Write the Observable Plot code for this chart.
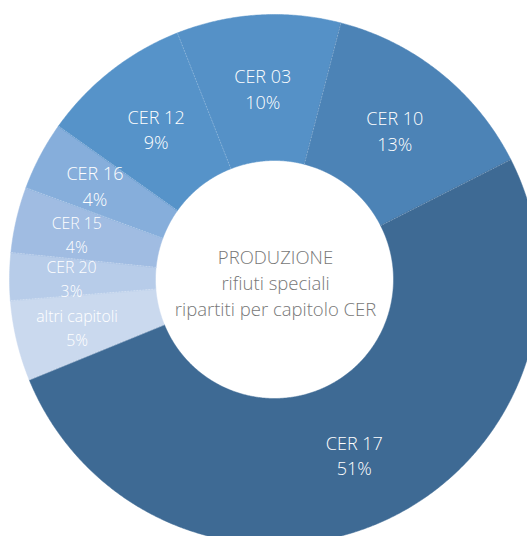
<!DOCTYPE html>
<html><head><meta charset="utf-8">
<script src="https://cdn.jsdelivr.net/npm/d3@7"></script>
<script src="https://cdn.jsdelivr.net/npm/@observablehq/plot@0.6"></script>
<style>
html,body{margin:0;padding:0;background:#fff;overflow:hidden}
#chart svg{overflow:hidden;display:block}
</style>
</head><body><div id="chart"></div>
<script>
// ---- data ----
const categories = ["CER 03","CER 10","CER 17","altri capitoli","CER 20","CER 15","CER 16","CER 12"];
const shares = [10.0, 13.5, 51.3, 4.9, 2.9, 4.0, 4.2, 9.2];
const percentLabels = ["10%","13%","51%","5%","3%","4%","4%","9%"];
const colors = ["#5591c7","#4c83b6","#3e6a94","#cad9ee","#b7cce9","#a0bce2","#86aedb","#5693c9"];
const centerLines = ["PRODUZIONE","rifiuti speciali","ripartiti per capitolo CER"];

// ---- geometry (in scale units) ----
const R = 265, r0 = 119, startDeg = 338.5;
const smallLabels = new Set(["CER 15","CER 20","altri capitoli"]);
const total = d3.sum(shares);
let acc = startDeg;
const slices = categories.map((c, i) => {
  const a0 = acc, a1 = acc + shares[i] / total * 360;
  acc = a1;
  return {c, i, a0, a1, mid: (a0 + a1) / 2};
});
const rad = d => d * Math.PI / 180;
const pt = (rr, deg) => ({x: rr * Math.sin(rad(deg)), y: rr * Math.cos(rad(deg))});
function ring(s) {
  const pts = [];
  const n = Math.max(6, Math.ceil((s.a1 - s.a0) / 0.4));
  for (let k = 0; k <= n; k++) pts.push(pt(R, s.a0 + (s.a1 - s.a0) * k / n));
  for (let k = n; k >= 0; k--) pts.push(pt(r0, s.a0 + (s.a1 - s.a0) * k / n));
  return pts;
}
const sepData = slices.map(s => {const a = pt(r0, s.a0), b = pt(R, s.a0); return {x1: a.x, y1: a.y, x2: b.x, y2: b.y};});
const labelData = slices.map(s => {
  const p = pt(shares[s.i] < 6 ? 203 : 192, s.mid);
  return {x: p.x, y: p.y, text: s.c + "\n" + percentLabels[s.i], small: smallLabels.has(s.c)};
});

const marks = slices.map(s => Plot.line(ring(s), {x: "x", y: "y", fill: colors[s.i], stroke: colors[s.i], strokeWidth: 0.5, curve: "linear-closed"}));
marks.push(Plot.link(sepData, {x1: "x1", y1: "y1", x2: "x2", y2: "y2", stroke: "white", strokeOpacity: 0.35, strokeWidth: 0.7, strokeDasharray: "1.5,1.5"}));
marks.push(Plot.text(labelData.filter(d => !d.small), {x: "x", y: "y", text: "text", fill: "white", fontSize: 18, fontWeight: 300, lineHeight: 1.42}));
marks.push(Plot.text(labelData.filter(d => d.small), {x: "x", y: "y", text: "text", fill: "white", fontSize: 15.8, fontWeight: 300, lineHeight: 1.52}));
marks.push(Plot.text([centerLines.join("\n")], {x: () => 1, y: () => -2, text: d => d, fill: "#777777", fontSize: 18.5, fontWeight: 300, lineHeight: 1.43}));

const chart = Plot.plot({
  width: 527, height: 536, margin: 0,
  style: {fontFamily: "'Open Sans', sans-serif", background: "white"},
  x: {domain: [-274, 253], range: [0, 527], axis: null},
  y: {domain: [279, -257], range: [0, 536], axis: null},
  marks
});
document.getElementById("chart").appendChild(chart);
</script>
</body></html>
